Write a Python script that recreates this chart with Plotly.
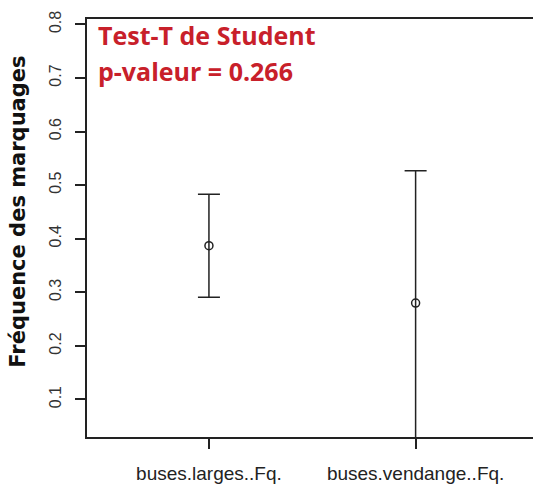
import plotly.graph_objects as go

categories = ["buses.larges..Fq.", "buses.vendange..Fq."]
x_pos = [1, 2]
means = [0.387, 0.280]
errors_plus = [0.096, 0.247]
errors_minus = [0.096, 0.262]
y_ticks = [0.1, 0.2, 0.3, 0.4, 0.5, 0.6, 0.7, 0.8]
y_title = "Fréquence des marquages"
test_title = "Test-T de Student"
p_text = "p-valeur = 0.266"

W, H = 533, 484
PL, PT, PB = 87.3, 18.7, 437.3  # plot area in page pixels
L, T, B = PL, PT, H - PB

def px(xp):
    return (xp - PL) / (W - PL)

def py(yp):
    return (PB - yp) / (PB - PT)

fig = go.Figure()
fig.add_trace(go.Scatter(
    x=x_pos, y=means, mode="markers",
    marker=dict(symbol="circle-open", size=8, color="#222222", line=dict(width=1.5, color="#222222")),
    error_y=dict(type="data", array=errors_plus, arrayminus=errors_minus, symmetric=False,
                 color="#222222", thickness=1.5, width=11),
    showlegend=False, cliponaxis=True, hoverinfo="skip",
))

fig.update_layout(
    width=W, height=H,
    margin=dict(l=L, r=0, t=T, b=B, pad=0),
    paper_bgcolor="white", plot_bgcolor="white",
    xaxis=dict(
        range=[0.41, 2.568], tickvals=x_pos, ticktext=categories,
        showgrid=False, zeroline=False, showline=True, linecolor="#222222", linewidth=1.5,
        mirror=True, ticks="outside", ticklen=10, tickwidth=1.5, tickcolor="#222222",
        tickfont=dict(family="Liberation Sans, Arial, sans-serif", size=19, color="#222222"),
        ticklabelstandoff=8,
    ),
    yaxis=dict(
        range=[0.03, 0.81], tickvals=y_ticks, ticktext=[str(v) for v in y_ticks],
        showgrid=False, zeroline=False, showline=True, linecolor="#222222", linewidth=1.5,
        ticks="outside", ticklen=10, tickwidth=1.5, tickcolor="#222222", tickangle=-90,
        tickfont=dict(family="Liberation Sans, Arial, sans-serif", size=16, color="#333333"),
        ticklabelstandoff=8,
    ),
    annotations=[
        dict(text=y_title, xref="paper", yref="paper", x=px(18), y=py(212), textangle=-90,
             showarrow=False, xanchor="center", yanchor="middle",
             font=dict(family="DejaVu Sans, sans-serif", size=21, color="#111111", weight="bold")),
        dict(text=test_title, xref="paper", yref="paper", x=px(96), y=py(35),
             showarrow=False, xanchor="left", yanchor="middle",
             font=dict(family="Open Sans, sans-serif", size=25, color="#C8202A", weight="bold")),
        dict(text=p_text, xref="paper", yref="paper", x=px(96), y=py(71),
             showarrow=False, xanchor="left", yanchor="middle",
             font=dict(family="Open Sans, sans-serif", size=25, color="#C8202A", weight="bold")),
    ],
)

fig.write_html(
    "out.html",
    config={"displayModeBar": False},
    post_script=(
        "document.body.style.margin='0';document.body.style.padding='0';"
        "document.body.style.overflow='hidden';document.documentElement.style.overflow='hidden';"
    ),
)
